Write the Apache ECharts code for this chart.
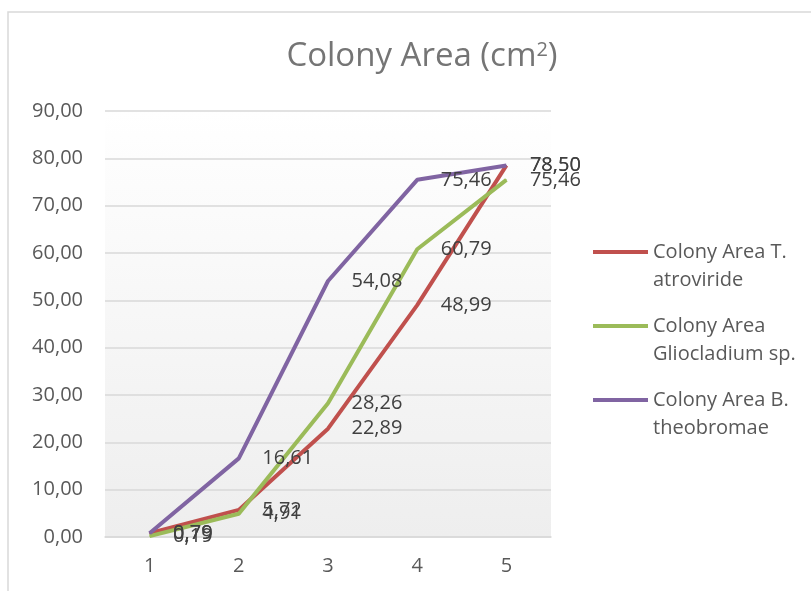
<!DOCTYPE html>
<html>
<head>
<meta charset="utf-8">
<script src="https://cdn.jsdelivr.net/npm/echarts@6/dist/echarts.min.js"></script>
<style>
    html, body { margin: 0; padding: 0; background: #fff; }
    #chart { width: 811px; height: 591px; }
</style>
</head>
<body>
<div id="chart"></div>
<script>
let days = ['1', '2', '3', '4', '5'];
let seriesNames = ['Colony Area T. atroviride', 'Colony Area Gliocladium sp.', 'Colony Area B. theobromae'];
let legendText = ['Colony Area T.\natroviride', 'Colony Area\nGliocladium sp.', 'Colony Area B.\ntheobromae'];
let atroviride = [0.79, 5.72, 22.89, 48.99, 78.50];
let gliocladium = [0.19, 4.91, 28.26, 60.79, 75.46];
let theobromae = [0.79, 16.61, 54.08, 75.46, 78.50];
let colors = ['#C0504D', '#9BBB59', '#8064A2'];

function fmt(v){
    return v.toFixed(2).replace('.', ',');
}

function makeSeries(name, values, color){
    return {
        name: name,
        type: 'line',
        data: values,
        symbol: 'circle',
        symbolSize: 1,
        lineStyle: { width: 4, color: color },
        itemStyle: { color: color },
        label: {
            show: true,
            position: 'right',
            distance: 23,
            fontSize: 20,
            fontFamily: 'Open Sans',
            color: '#404040',
            formatter: function(p){ return fmt(p.value); }
        },
        emphasis: { disabled: true }
    };
}

let myChart = echarts.init(document.getElementById('chart'));

let option = {
    animation: false,
    backgroundColor: '#ffffff',
    graphic: [{
        type: 'rect',
        shape: { x: 8, y: 12, width: 900, height: 700 },
        style: { fill: 'none', stroke: '#d9d9d9', lineWidth: 1.5 },
        silent: true
    }],
    title: {
        text: 'Colony Area (cm{sup|2})',
        left: 417,
        top: 35,
        textAlign: 'center',
        textStyle: {
            fontFamily: 'Open Sans',
            fontSize: 33,
            fontWeight: 'normal',
            color: '#757575',
            rich: {
                sup: { fontSize: 20, fontFamily: 'Open Sans', color: '#757575', verticalAlign: 'top', padding: [0, 0, 14, 0] }
            }
        }
    },
    legend: {
        orient: 'vertical',
        left: 593,
        top: 210,
        padding: 0,
        itemGap: -10,
        itemWidth: 55,
        itemHeight: 4,
        icon: 'rect',
        data: seriesNames,
        formatter: function(name){
            return '\n' + legendText[seriesNames.indexOf(name)];
        },
        textStyle: {
            fontFamily: 'Open Sans',
            fontSize: 20,
            lineHeight: 28,
            color: '#595959'
        }
    },
    grid: {
        left: 105,
        right: 260,
        top: 111,
        bottom: 54,
        show: true,
        borderWidth: 0,
        backgroundColor: new echarts.graphic.LinearGradient(0, 0, 0, 1, [
            { offset: 0, color: '#ffffff' },
            { offset: 1, color: '#eeeeee' }
        ])
    },
    xAxis: {
        type: 'category',
        data: days,
        boundaryGap: true,
        axisLine: { lineStyle: { color: '#d9d9d9', width: 1.5 } },
        axisTick: { show: false },
        axisLabel: { fontFamily: 'Open Sans', fontSize: 20, color: '#595959', margin: 19 }
    },
    yAxis: {
        type: 'value',
        min: 0,
        max: 90,
        interval: 10,
        axisLine: { show: false },
        axisTick: { show: false },
        splitLine: { lineStyle: { color: '#d9d9d9', width: 1.5 } },
        axisLabel: {
            fontFamily: 'Open Sans',
            fontSize: 20,
            color: '#595959',
            margin: 22,
            formatter: function(v){ return fmt(v); }
        }
    },
    series: [
        makeSeries(seriesNames[0], atroviride, colors[0]),
        makeSeries(seriesNames[1], gliocladium, colors[1]),
        makeSeries(seriesNames[2], theobromae, colors[2])
    ]
};

myChart.setOption(option);
</script>
</body>
</html>
